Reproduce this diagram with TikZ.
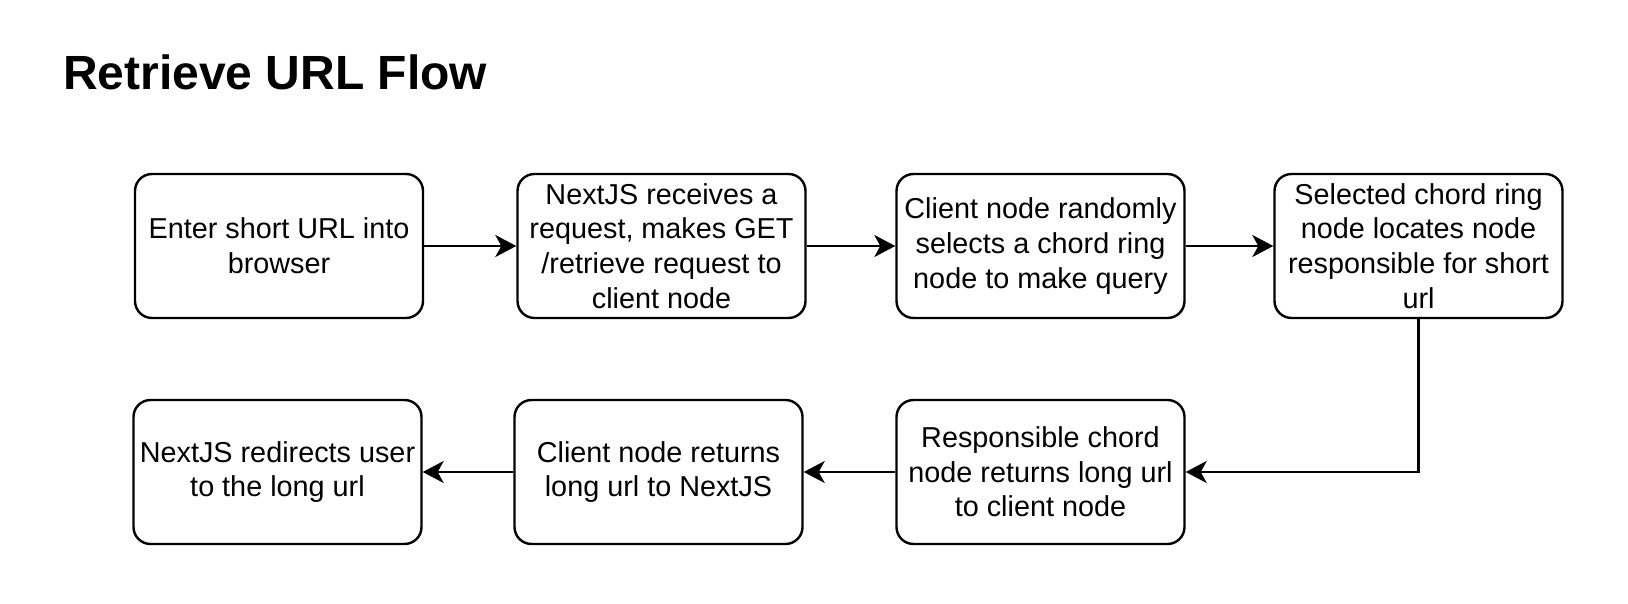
\documentclass[tikz,border=0pt]{standalone}
\usepackage{fontspec}
\setmainfont{Liberation Sans}
\usetikzlibrary{arrows.meta}
\tikzset{
  flowbox/.style={draw=black, line width=2.4pt, rounded corners=17pt,
    minimum width=288pt, minimum height=144pt, inner sep=0pt,
    align=center, font=\fontsize{28.8}{34.6}\selectfont},
  flowarrow/.style={draw=black, line width=2.4pt,
    -{Stealth[length=21pt, width=22pt, inset=6pt]}},
}
\begin{document}
\begin{tikzpicture}[x=1pt, y=-1pt]
\useasboundingbox[fill=white] (0,0) rectangle (1628,604);
\node[anchor=base west, inner sep=0pt, font=\fontsize{48}{56}\selectfont\bfseries] (title) at (63,90) {Retrieve URL Flow};

\node[flowbox] (b1) at (279,246) {Enter short URL into\\browser};
\node[flowbox] (b2) at (661.5,246) {NextJS receives a\\request, makes GET\\/retrieve request to\\client node};
\node[flowbox] (b3) at (1040.5,246) {Client node randomly\\selects a chord ring\\node to make query};
\node[flowbox] (b4) at (1418.5,246) {Selected chord ring\\node locates node\\responsible for short\\url};
\node[flowbox] (b5) at (1040.5,472) {Responsible chord\\node returns long url\\to client node};
\node[flowbox] (b6) at (658.5,472) {Client node returns\\long url to NextJS};
\node[flowbox] (b7) at (277.5,472) {NextJS redirects user\\to the long url};

\draw[flowarrow] (b1) -- (b2);
\draw[flowarrow] (b2) -- (b3);
\draw[flowarrow] (b3) -- (b4);
\draw[flowarrow] (b4.south) |- (b5.east);
\draw[flowarrow] (b5) -- (b6);
\draw[flowarrow] (b6) -- (b7);
\end{tikzpicture}
\end{document}
